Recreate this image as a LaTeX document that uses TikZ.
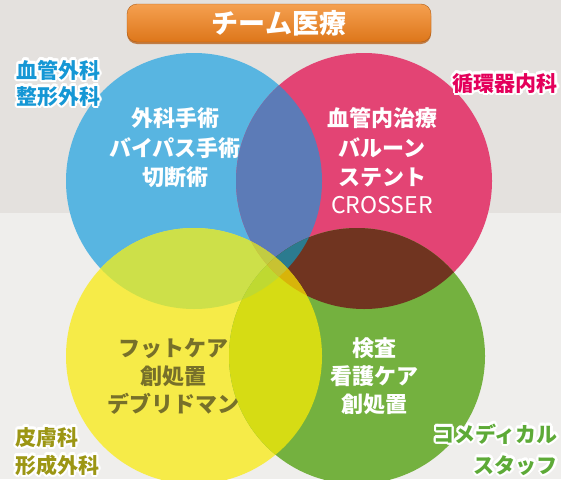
\documentclass[tikz,border=0pt]{standalone}
\usepackage{fontspec}
\setmainfont{Noto Sans CJK JP}
\usetikzlibrary{calc,shadows}
\definecolor{bgtop}{HTML}{E4E1DE}
\definecolor{bgbot}{HTML}{EFEEEC}
\definecolor{cB}{HTML}{58B5E1}
\definecolor{cP}{HTML}{E34474}
\definecolor{cY}{HTML}{F6EB48}
\definecolor{cG}{HTML}{74B13F}
\definecolor{cBP}{HTML}{5C7BB7}
\definecolor{cBY}{HTML}{CDE049}
\definecolor{cBG}{HTML}{3C9A8A}
\definecolor{cPY}{HTML}{D9A83A}
\definecolor{cPG}{HTML}{703420}
\definecolor{cYG}{HTML}{D6DC14}
\definecolor{cBPY}{HTML}{C2CC42}
\definecolor{cBPG}{HTML}{2B7B8F}
\definecolor{cBYG}{HTML}{BFD931}
\definecolor{cPYG}{HTML}{D8B40A}
\definecolor{cAll}{HTML}{C8C232}
\definecolor{lblB}{HTML}{1597D5}
\definecolor{lblP}{HTML}{E4005B}
\definecolor{lblY}{HTML}{9C9614}
\definecolor{lblG}{HTML}{5DAA37}
\definecolor{txtY}{HTML}{77702A}
\definecolor{titleTop}{HTML}{F5A050}
\definecolor{titleBot}{HTML}{DD761A}
\definecolor{titleShadow}{HTML}{B9631E}
\newcommand\halolabel[5]{%
  \foreach \ang in {0,22.5,...,337.5}{\node[#4,text=white] at ($(#2,#3)+(\ang:2.2pt)$) {#5};}
  \node[#4] (#1) at (#2,#3) {#5};}
\begin{document}
\begin{tikzpicture}[x=1pt,y=-1pt,
  cirB/.style={insert path={(194,181) circle[radius=128pt]}},
  cirP/.style={insert path={(364,181) circle[radius=128pt]}},
  cirY/.style={insert path={(194,356) circle[radius=128pt]}},
  cirG/.style={insert path={(357,356) circle[radius=128pt]}},
  inner/.style={anchor=base,inner sep=0pt,font=\bfseries\fontsize{22}{26}\selectfont},
  lbl/.style={inner sep=0pt,font=\bfseries\fontsize{21}{25}\selectfont},
  titlebox/.style={rounded corners=10pt,minimum width=304pt,minimum height=38pt,
    top color=titleTop,bottom color=titleBot,draw=titleBot!80!black,line width=0.4pt,
    drop shadow={shadow xshift=0pt,shadow yshift=-2pt,fill=titleShadow,opacity=0.8},
    text=white,font=\bfseries\fontsize{27}{30}\selectfont}]
\useasboundingbox (0,0) rectangle (561,479);
\fill[bgtop] (0,0) rectangle (561,213);
\fill[bgbot] (0,213) rectangle (561,479);
% single circles
\fill[fill=cB,cirB];
\fill[fill=cP,cirP];
\fill[fill=cY,cirY];
\fill[fill=cG,cirG];
% pairs
\begin{scope}\clip[cirB]; \fill[fill=cBP,cirP]; \end{scope}
\begin{scope}\clip[cirB]; \fill[fill=cBY,cirY]; \end{scope}
\begin{scope}\clip[cirB]; \fill[fill=cBG,cirG]; \end{scope}
\begin{scope}\clip[cirP]; \fill[fill=cPY,cirY]; \end{scope}
\begin{scope}\clip[cirP]; \fill[fill=cPG,cirG]; \end{scope}
\begin{scope}\clip[cirY]; \fill[fill=cYG,cirG]; \end{scope}
% triples
\begin{scope}\clip[cirB]; \clip[cirP]; \fill[fill=cBPY,cirY]; \end{scope}
\begin{scope}\clip[cirB]; \clip[cirP]; \fill[fill=cBPG,cirG]; \end{scope}
\begin{scope}\clip[cirB]; \clip[cirY]; \fill[fill=cBYG,cirG]; \end{scope}
\begin{scope}\clip[cirP]; \clip[cirY]; \fill[fill=cPYG,cirG]; \end{scope}
% all four
\begin{scope}\clip[cirB]; \clip[cirP]; \clip[cirY]; \fill[fill=cAll,cirG]; \end{scope}
% title
\node[titlebox] (title) at (279,23) {チーム医療};
% inner texts
\node[inner,text=white] (b1) at (175,126) {外科手術};
\node[inner,text=white] (b2) at (175,156) {バイパス手術};
\node[inner,text=white] (b3) at (175,185) {切断術};
\node[inner,text=white] (p1) at (382,126) {血管内治療};
\node[inner,text=white] (p2) at (382,156) {バルーン};
\node[inner,text=white] (p3) at (382,185) {ステント};
\node[inner,text=white,font=\fontsize{23}{26}\selectfont] (p4) at (382,213) {CROSSER};
\node[inner,text=txtY] (y1) at (173,356) {フットケア};
\node[inner,text=txtY] (y2) at (173,384) {創処置};
\node[inner,text=txtY] (y3) at (173,412) {デブリドマン};
\node[inner,text=white] (g1) at (374,356) {検査};
\node[inner,text=white] (g2) at (374,384) {看護ケア};
\node[inner,text=white] (g3) at (374,412) {創処置};
% corner labels
\halolabel{lb1}{16}{78}{lbl,anchor=base west,text=lblB}{血管外科}
\halolabel{lb2}{16}{104}{lbl,anchor=base west,text=lblB}{整形外科}
\halolabel{lp1}{558}{91}{lbl,anchor=base east,text=lblP}{循環器内科}
\halolabel{ly1}{15}{445}{lbl,anchor=base west,text=lblY}{皮膚科}
\halolabel{ly2}{15}{473}{lbl,anchor=base west,text=lblY}{形成外科}
\halolabel{lg1}{558}{442}{lbl,anchor=base east,text=lblG}{コメディカル}
\halolabel{lg2}{558}{473}{lbl,anchor=base east,text=lblG}{スタッフ}
\end{tikzpicture}
\end{document}
